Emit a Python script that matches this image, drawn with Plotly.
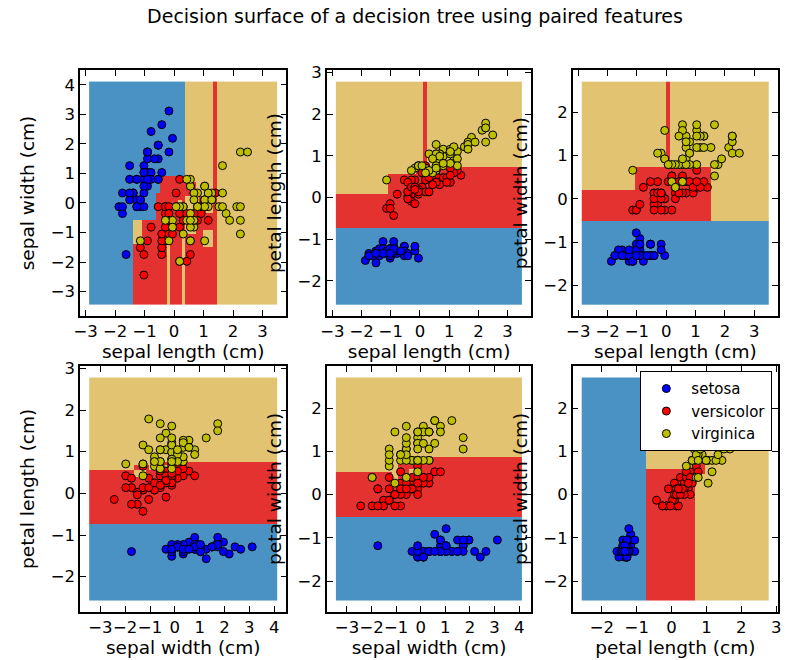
import numpy as np
import plotly.graph_objects as go
from plotly.subplots import make_subplots

# ---------------- data (iris, as drawn) ----------------
sepal_length = [
    5.1, 4.9, 4.7, 4.6, 5.0, 5.4, 4.6, 5.0, 4.4, 4.9, 5.4, 4.8, 4.8, 4.3, 5.8, 5.7, 5.4, 5.1, 5.7, 5.1,
    5.4, 5.1, 4.6, 5.1, 4.8, 5.0, 5.0, 5.2, 5.2, 4.7, 4.8, 5.4, 5.2, 5.5, 4.9, 5.0, 5.5, 4.9, 4.4, 5.1,
    5.0, 4.5, 4.4, 5.0, 5.1, 4.8, 5.1, 4.6, 5.3, 5.0,
    7.0, 6.4, 6.9, 5.5, 6.5, 5.7, 6.3, 4.9, 6.6, 5.2, 5.0, 5.9, 6.0, 6.1, 5.6, 6.7, 5.6, 5.8, 6.2, 5.6,
    5.9, 6.1, 6.3, 6.1, 6.4, 6.6, 6.8, 6.7, 6.0, 5.7, 5.5, 5.5, 5.8, 6.0, 5.4, 6.0, 6.7, 6.3, 5.6, 5.5,
    5.5, 6.1, 5.8, 5.0, 5.6, 5.7, 5.7, 6.2, 5.1, 5.7,
    6.3, 5.8, 7.1, 6.3, 6.5, 7.6, 4.9, 7.3, 6.7, 7.2, 6.5, 6.4, 6.8, 5.7, 5.8, 6.4, 6.5, 7.7, 7.7, 6.0,
    6.9, 5.6, 7.7, 6.3, 6.7, 7.2, 6.2, 6.1, 6.4, 7.2, 7.4, 7.9, 6.4, 6.3, 6.1, 7.7, 6.3, 6.4, 6.0, 6.9,
    6.7, 6.9, 5.8, 6.8, 6.7, 6.7, 6.3, 6.5, 6.2, 5.9]
sepal_width = [
    3.5, 3.0, 3.2, 3.1, 3.6, 3.9, 3.4, 3.4, 2.9, 3.1, 3.7, 3.4, 3.0, 3.0, 4.0, 4.4, 3.9, 3.5, 3.8, 3.8,
    3.4, 3.7, 3.6, 3.3, 3.4, 3.0, 3.4, 3.5, 3.4, 3.2, 3.1, 3.4, 4.1, 4.2, 3.1, 3.2, 3.5, 3.1, 3.0, 3.4,
    3.5, 2.3, 3.2, 3.5, 3.8, 3.0, 3.8, 3.2, 3.7, 3.3,
    3.2, 3.2, 3.1, 2.3, 2.8, 2.8, 3.3, 2.4, 2.9, 2.7, 2.0, 3.0, 2.2, 2.9, 2.9, 3.1, 3.0, 2.7, 2.2, 2.5,
    3.2, 2.8, 2.5, 2.8, 2.9, 3.0, 2.8, 3.0, 2.9, 2.6, 2.4, 2.4, 2.7, 2.7, 3.0, 3.4, 3.1, 2.3, 3.0, 2.5,
    2.6, 3.0, 2.6, 2.3, 2.7, 3.0, 2.9, 2.9, 2.5, 2.8,
    3.3, 2.7, 3.0, 2.9, 3.0, 3.0, 2.5, 2.9, 2.5, 3.6, 3.2, 2.7, 3.0, 2.5, 2.8, 3.2, 3.0, 3.8, 2.6, 2.2,
    3.2, 2.8, 2.8, 2.7, 3.3, 3.2, 2.8, 3.0, 2.8, 3.0, 2.8, 3.8, 2.8, 2.8, 2.6, 3.0, 3.4, 3.1, 3.0, 3.1,
    3.1, 3.1, 2.7, 3.2, 3.3, 3.0, 2.5, 3.0, 3.4, 3.0]
petal_length = [
    1.4, 1.4, 1.3, 1.5, 1.4, 1.7, 1.4, 1.5, 1.4, 1.5, 1.5, 1.6, 1.4, 1.1, 1.2, 1.5, 1.3, 1.4, 1.7, 1.5,
    1.7, 1.5, 1.0, 1.7, 1.9, 1.6, 1.6, 1.5, 1.4, 1.6, 1.6, 1.5, 1.5, 1.4, 1.5, 1.2, 1.3, 1.5, 1.3, 1.5,
    1.3, 1.3, 1.3, 1.6, 1.9, 1.4, 1.6, 1.4, 1.5, 1.4,
    4.7, 4.5, 4.9, 4.0, 4.6, 4.5, 4.7, 3.3, 4.6, 3.9, 3.5, 4.2, 4.0, 4.7, 3.6, 4.4, 4.5, 4.1, 4.5, 3.9,
    4.8, 4.0, 4.9, 4.7, 4.3, 4.4, 4.8, 5.0, 4.5, 3.5, 3.8, 3.7, 3.9, 5.1, 4.5, 4.5, 4.7, 4.4, 4.1, 4.0,
    4.4, 4.6, 4.0, 3.3, 4.2, 4.2, 4.2, 4.3, 3.0, 4.1,
    6.0, 5.1, 5.9, 5.6, 5.8, 6.6, 4.5, 6.3, 5.8, 6.1, 5.1, 5.3, 5.5, 5.0, 5.1, 5.3, 5.5, 6.7, 6.9, 5.0,
    5.7, 4.9, 6.7, 4.9, 5.7, 6.0, 4.8, 4.9, 5.6, 5.8, 6.1, 6.4, 5.6, 5.1, 5.6, 6.1, 5.6, 5.5, 4.8, 5.4,
    5.6, 5.1, 5.1, 5.9, 5.7, 5.2, 5.0, 5.2, 5.4, 5.1]
petal_width = [
    0.2, 0.2, 0.2, 0.2, 0.2, 0.4, 0.3, 0.2, 0.2, 0.1, 0.2, 0.2, 0.1, 0.1, 0.2, 0.4, 0.4, 0.3, 0.3, 0.3,
    0.2, 0.4, 0.2, 0.5, 0.2, 0.2, 0.4, 0.2, 0.2, 0.2, 0.2, 0.4, 0.1, 0.2, 0.1, 0.2, 0.2, 0.1, 0.2, 0.2,
    0.3, 0.3, 0.2, 0.6, 0.4, 0.3, 0.2, 0.2, 0.2, 0.2,
    1.4, 1.5, 1.5, 1.3, 1.5, 1.3, 1.6, 1.0, 1.3, 1.4, 1.0, 1.5, 1.0, 1.4, 1.3, 1.4, 1.5, 1.0, 1.5, 1.1,
    1.8, 1.3, 1.5, 1.2, 1.3, 1.4, 1.4, 1.7, 1.5, 1.0, 1.1, 1.0, 1.2, 1.6, 1.5, 1.6, 1.5, 1.3, 1.3, 1.3,
    1.2, 1.4, 1.2, 1.0, 1.3, 1.2, 1.3, 1.3, 1.1, 1.3,
    2.5, 1.9, 2.1, 1.8, 2.2, 2.1, 1.7, 1.8, 1.8, 2.5, 2.0, 1.9, 2.1, 2.0, 2.4, 2.3, 1.8, 2.2, 2.3, 1.5,
    2.3, 2.0, 2.0, 1.8, 2.1, 1.8, 1.8, 1.8, 2.1, 1.6, 1.9, 2.0, 2.2, 1.5, 1.4, 2.3, 2.4, 1.8, 1.8, 2.1,
    2.4, 2.3, 1.9, 2.3, 2.5, 2.3, 1.9, 2.0, 2.3, 1.8]
species = ["setosa"] * 50 + ["versicolor"] * 50 + ["virginica"] * 50

class_names = ["setosa", "versicolor", "virginica"]
feature_names = ["sepal length (cm)", "sepal width (cm)", "petal length (cm)", "petal width (cm)"]
feature_pairs = [[0, 1], [0, 2], [0, 3], [1, 2], [1, 3], [2, 3]]

# ---------------- styles ----------------
point_colors = ["#0000ff", "#ff0000", "#bfbf00"]
surface_colors = ["#4a92c4", "#e43231", "#e2c372"]
FONT = "DejaVu Sans"
plot_step = 0.02

features = np.array([sepal_length, sepal_width, petal_length, petal_width]).T
target = np.array([class_names.index(s) for s in species])


# ---------------- a plain CART tree (gini, grown until pure) ----------------
def gini(c):
    n = c.sum()
    if n == 0:
        return 0.0
    p = c / n
    return 1.0 - float((p * p).sum())


def build(X, y, idx, feat_order):
    counts = np.bincount(y[idx], minlength=3).astype(float)
    if np.count_nonzero(counts) <= 1:
        return int(np.argmax(counts))
    n = len(idx)
    best = None
    for f in feat_order:
        xs = X[idx, f]
        order = np.argsort(xs, kind="stable")
        xs_s = xs[order]
        ys_s = y[idx][order]
        left = np.zeros(3)
        for i in range(n - 1):
            left[ys_s[i]] += 1
            if xs_s[i + 1] <= xs_s[i] + 1e-9:
                continue
            nl = i + 1
            score = nl * gini(left) + (n - nl) * gini(counts - left)
            if best is None or score < best[0] - 1e-9:
                best = (score, f, 0.5 * (xs_s[i] + xs_s[i + 1]))
    if best is None:
        return int(np.argmax(counts))
    _, f, t = best
    m = X[idx, f] <= t
    return (f, t, build(X, y, idx[m], feat_order), build(X, y, idx[~m], feat_order))


def predict(tree, P):
    out = np.zeros(len(P), dtype=int)

    def rec(node, sel):
        if isinstance(node, int):
            out[sel] = node
            return
        f, t, l, r = node
        m = P[sel, f] <= t
        rec(l, sel[m])
        rec(r, sel[~m])

    rec(tree, np.arange(len(P)))
    return out


# ---------------- figure ----------------
fig = make_subplots(rows=2, cols=3)
col_domains = [[74 / 786, 283 / 786], [324 / 786, 531 / 786], [573 / 786, 781 / 786]]
row_domains = [[1 - 312 / 660, 1 - 64 / 660], [1 - 611 / 660, 1 - 363 / 660]]

colorscale = [[0, surface_colors[0]], [1 / 3, surface_colors[0]],
              [1 / 3, surface_colors[1]], [2 / 3, surface_colors[1]],
              [2 / 3, surface_colors[2]], [1, surface_colors[2]]]

for k, pair in enumerate(feature_pairs):
    row, col = k // 3 + 1, k % 3 + 1
    X = features[:, pair]
    X = (X - X.mean(axis=0)) / X.std(axis=0)
    tree = build(X, target, np.arange(len(X)), [0, 1])

    x_min, x_max = X[:, 0].min() - 1, X[:, 0].max() + 1
    y_min, y_max = X[:, 1].min() - 1, X[:, 1].max() + 1
    gx = np.arange(x_min, x_max, plot_step)
    gy = np.arange(y_min, y_max, plot_step)
    xx, yy = np.meshgrid(gx, gy)
    Z = predict(tree, np.c_[xx.ravel(), yy.ravel()]).reshape(xx.shape)

    fig.add_trace(go.Heatmap(x=np.round(gx, 3), y=np.round(gy, 3), z=Z, zmin=0, zmax=2,
                             colorscale=colorscale, showscale=False, hoverinfo="skip"),
                  row=row, col=col)

    for c in range(3):
        sel = target == c
        fig.add_trace(go.Scatter(
            x=X[sel, 0], y=X[sel, 1], mode="markers", name=class_names[c],
            legendgroup=class_names[c], showlegend=(k == 5),
            marker=dict(size=8, color=point_colors[c], line=dict(color="black", width=1))),
            row=row, col=col)

    xr = x_max - x_min
    yr = y_max - y_min
    axis_common = dict(showline=True, linecolor="black", linewidth=1.5, mirror="ticks",
                       ticks="inside", ticklen=6, tickcolor="black", tickwidth=1,
                       showgrid=False, zeroline=False, dtick=1, tickangle=0,
                       tickfont=dict(family=FONT, size=16.5, color="black"))
    fig.update_xaxes(domain=col_domains[col - 1],
                     range=[x_min - 0.05 * xr, x_max + 0.05 * xr],
                     title=dict(text=feature_names[pair[0]], standoff=4,
                                font=dict(family=FONT, size=18.5, color="black")),
                     **axis_common, row=row, col=col)
    fig.update_yaxes(domain=row_domains[row - 1],
                     range=[y_min - 0.05 * yr, y_max + 0.05 * yr],
                     title=dict(text=feature_names[pair[1]], standoff=11,
                                font=dict(family=FONT, size=18.5, color="black")),
                     **axis_common, row=row, col=col)

fig.update_layout(
    width=786, height=660,
    margin=dict(l=0, r=0, t=0, b=0),
    paper_bgcolor="white", plot_bgcolor="white",
    font=dict(family=FONT, color="black"),
    title=dict(text="Decision surface of a decision tree using paired features",
               x=415 / 786, xanchor="center", y=1 - 16 / 660, yanchor="middle",
               font=dict(family=FONT, size=19, color="black")),
    legend=dict(x=775 / 786, y=1 - 368 / 660, xanchor="right", yanchor="top",
                bgcolor="white", bordercolor="black", borderwidth=1.2, itemwidth=40,
                font=dict(family=FONT, size=15, color="black"), tracegroupgap=0),
)

fig.write_html("out.html")
